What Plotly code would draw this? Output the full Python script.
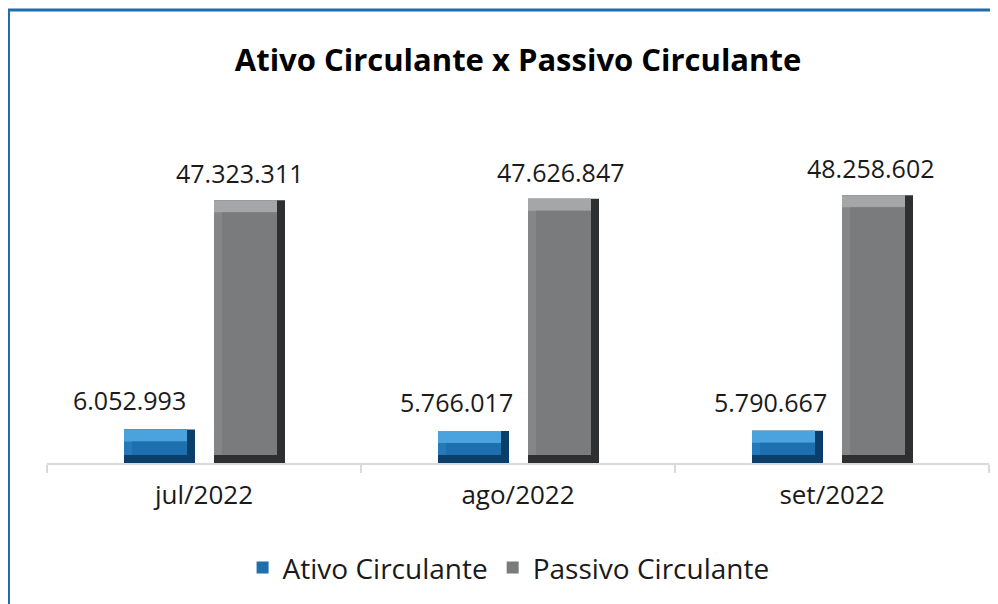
import plotly.graph_objects as go

# -----------------------------------------------------------------------------
# Data
# -----------------------------------------------------------------------------
MESES = ["jul/2022", "ago/2022", "set/2022"]
ATIVO = [6052993, 5766017, 5790667]
PASSIVO = [47323311, 47626847, 48258602]

TITULO = "Ativo Circulante x Passivo Circulante"
FONTE = "'Open Sans', Lato, sans-serif"

# -----------------------------------------------------------------------------
# Geometry helpers (pixel -> data units) for the bevel look
# -----------------------------------------------------------------------------
# the page body has an 8px margin, so the figure is drawn 8px smaller
W, H = 990, 596
Y_MAX = 60e6
PLOT_H = 333          # px height of plot area
CAT_W = 314           # px width of one category
PX_Y = Y_MAX / PLOT_H
PX_X = 1.0 / CAT_W
BAR_W = 71 * PX_X
SIDE = 8 * PX_X       # left/right bevel
BOTTOM = 8 * PX_Y     # bottom bevel
TOP = 12 * PX_Y       # top bevel


def fmt(v):
    return f"{v:,}".replace(",", ".")


def bevel_bars(name, values, offset, dark, left, top, face):
    """Overlaid bars that fake Excel's bevel effect."""
    common = dict(x=MESES, hoverinfo="skip", legendgroup=name,
                  marker_line_width=0)
    return [
        go.Bar(y=values, base=0, offset=offset, width=BAR_W,
               marker_color=dark, showlegend=False, **common),
        go.Bar(y=[v - BOTTOM for v in values], base=BOTTOM, offset=offset,
               width=BAR_W - SIDE, marker_color=left, showlegend=False,
               **common),
        go.Bar(y=[TOP] * len(values), base=[v - TOP for v in values],
               offset=offset, width=BAR_W - SIDE, marker_color=top,
               showlegend=False, **common),
        go.Bar(y=[v - BOTTOM - TOP for v in values], base=BOTTOM,
               offset=offset + SIDE, width=BAR_W - 2 * SIDE,
               marker_color=face, name=name, **common),
    ]


fig = go.Figure()
for tr in bevel_bars("Ativo Circulante", ATIVO, -80 * PX_X,
                     "#0b3f69", "#2479ba", "#4ba3de", "#1d6fae"):
    fig.add_trace(tr)
for tr in bevel_bars("Passivo Circulante", PASSIVO, 10 * PX_X,
                     "#2e2f31", "#858688", "#a5a6a8", "#7a7b7d"):
    fig.add_trace(tr)

# data labels (Excel places them slightly off-centre)
ativo_shift = [-30, -17, -17]
passivo_shift = [-9, -2, -6]
for i, mes in enumerate(MESES):
    fig.add_annotation(x=mes, y=ATIVO[i], text=fmt(ATIVO[i]),
                       xshift=-44.5 + ativo_shift[i], yshift=10,
                       yanchor="bottom", showarrow=False)
    fig.add_annotation(x=mes, y=PASSIVO[i], text=fmt(PASSIVO[i]),
                       xshift=45 + passivo_shift[i], yshift=8,
                       yanchor="bottom", showarrow=False)

# blue frame on the left and top
fig.add_shape(type="path", xref="paper", yref="paper",
              path="M -0.0409,-0.45 L -0.0409,1.3604 L 1.03,1.3604",
              line=dict(color="#1f6cab", width=3))

fig.update_layout(
    width=W, height=H,
    margin=dict(l=39, r=9, t=122, b=141),
    paper_bgcolor="white", plot_bgcolor="white",
    barmode="overlay",
    font=dict(family=FONTE, size=25, color="#1a1a1a"),
    title=dict(text=f"<b>{TITULO}</b>", x=0.5, xref="paper", xanchor="center",
               y=1 - 52 / H, yref="container", yanchor="middle",
               font=dict(size=31, color="black")),
    xaxis=dict(showline=True, linecolor="#d9d9d9", linewidth=1.5,
               ticks="outside", tickson="boundaries", ticklen=8,
               tickcolor="#d9d9d9", tickwidth=1.5, showgrid=False,
               ticklabelstandoff=8, tickfont=dict(size=26)),
    yaxis=dict(range=[0, Y_MAX], visible=False, showgrid=False),
    legend=dict(orientation="h", x=0.49, xanchor="center", y=-0.315,
                yanchor="middle", font=dict(size=28), traceorder="normal",
                itemwidth=30),
    showlegend=True,
)

fig.write_html("out.html")
